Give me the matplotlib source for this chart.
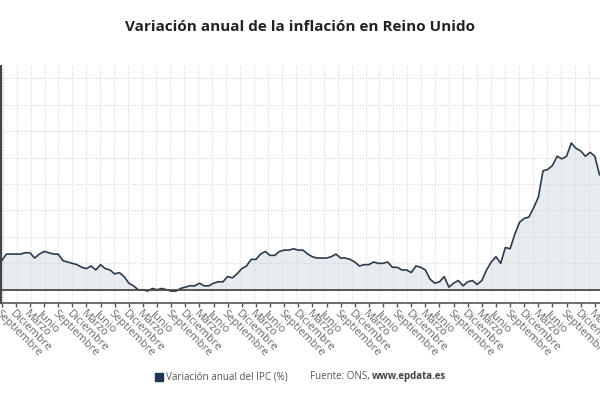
import matplotlib
matplotlib.use("Agg")
import matplotlib.pyplot as plt
from matplotlib.ticker import FixedLocator, MultipleLocator, NullFormatter
from matplotlib.lines import Line2D
from matplotlib.transforms import ScaledTranslation, blended_transform_factory
import numpy as np

# Monthly CPI annual rate, UK, Sep 2012 .. Apr 2023
ipc = [
    2.2, 2.7, 2.7, 2.7,
    2.7, 2.8, 2.8, 2.4, 2.7, 2.9, 2.8, 2.7, 2.7, 2.2, 2.1, 2.0,
    1.9, 1.7, 1.6, 1.8, 1.5, 1.9, 1.6, 1.5, 1.2, 1.3, 1.0, 0.5,
    0.3, 0.0, 0.0, -0.1, 0.1, 0.0, 0.1, 0.0, -0.1, -0.1, 0.1, 0.2,
    0.3, 0.3, 0.5, 0.3, 0.3, 0.5, 0.6, 0.6, 1.0, 0.9, 1.2, 1.6,
    1.8, 2.3, 2.3, 2.7, 2.9, 2.6, 2.6, 2.9, 3.0, 3.0, 3.1, 3.0,
    3.0, 2.7, 2.5, 2.4, 2.4, 2.4, 2.5, 2.7, 2.4, 2.4, 2.3, 2.1,
    1.8, 1.9, 1.9, 2.1, 2.0, 2.0, 2.1, 1.7, 1.7, 1.5, 1.5, 1.3,
    1.8, 1.7, 1.5, 0.8, 0.5, 0.6, 1.0, 0.2, 0.5, 0.7, 0.3, 0.6,
    0.7, 0.4, 0.7, 1.5, 2.1, 2.5, 2.0, 3.2, 3.1, 4.2, 5.1, 5.4,
    5.5, 6.2, 7.0, 9.0, 9.1, 9.4, 10.1, 9.9, 10.1, 11.1, 10.7, 10.5,
    10.1, 10.4, 10.1, 8.7,
]
quarter_names = ["Septiembre", "Diciembre", "Marzo", "Junio"]
title = "Variación anual de la inflación en Reino Unido"
serie_name = "Variación anual del IPC (%)"
source_txt = "Fuente: ONS, "
source_web = "www.epdata.es"

x = np.arange(len(ipc))
y = np.array(ipc)

plt.rcParams['font.family'] = ['Open Sans', 'DejaVu Sans']

fig = plt.figure(figsize=(6, 4), dpi=100)
ax = fig.add_axes([1/600, 97/400, 599/600, 238/400])

line_col = "#2c3b4c"
ax.fill_between(x, y, 0, color="#e6eaef", alpha=0.9, lw=0, zorder=1)
ax.plot(x, y, color=line_col, lw=1.2, zorder=3)
ax.axhline(0, color="#4a4a4a", lw=1.3, zorder=4)

ax.set_xlim(-0.15, 127.1)
ax.set_ylim(-1, 17)

# ticks
tick_pos = np.arange(0, len(ipc), 3)
tick_labels = [quarter_names[k % 4] for k in range(len(tick_pos))]
ax.xaxis.set_major_locator(FixedLocator(tick_pos))
ax.xaxis.set_major_formatter(NullFormatter())
ax.tick_params(axis='x', which='major', direction='out', length=3, width=1,
               color="#555555")
lab_trans = blended_transform_factory(ax.transData, ax.transAxes) + \
    ScaledTranslation(-4/100, -9/100, fig.dpi_scale_trans)
for pos, lab in zip(tick_pos, tick_labels):
    ax.text(pos, 0, lab, transform=lab_trans, rotation=-45, ha='left', va='center',
            rotation_mode='anchor', fontsize=8, color="#6a6a6a", clip_on=False)

ax.xaxis.set_minor_locator(MultipleLocator(2.965, offset=0.2))
ax.tick_params(axis='x', which='minor', length=0)
ax.set_yticks(np.arange(0, 17, 2))
ax.tick_params(axis='y', length=0, labelleft=False)

ax.grid(True, axis='y', which='major', color="#d6d6d6", lw=0.8, ls=(0, (1, 1.5)), zorder=0)
ax.grid(True, axis='x', which='minor', color="#d6d6d6", lw=0.8, ls=(0, (1, 1.5)), zorder=0)
ax.grid(False, axis='x', which='major')

for s in ['top', 'right']:
    ax.spines[s].set_visible(False)
ax.spines['bottom'].set_color("#555555")
ax.spines['bottom'].set_linewidth(1.2)
ax.spines['left'].set_color("#444444")
ax.spines['left'].set_linewidth(1.6)
ax.spines['left'].set_linestyle((0, (1, 0.6)))

fig.text(0.5, 1 - 27/400, title, ha='center', va='center', fontsize=11,
         fontweight='bold', color="#222222")

# legend / source
ly = 1 - 377/400
fig.add_artist(Line2D([158.5/600], [ly], marker='s', markersize=5.5, color="#1e3550",
                      transform=fig.transFigure, lw=0))
fig.text(166/600, ly, serie_name, ha='left', va='center', fontsize=7.1, color="#555555")
t1 = fig.text(310/600, ly, source_txt, ha='left', va='center', fontsize=7.0, color="#555555")
fig.canvas.draw()
bb = t1.get_window_extent(renderer=fig.canvas.get_renderer())
fig.text(bb.x1 / fig.bbox.width, ly, source_web, ha='left', va='center', fontsize=7.0,
         fontweight='bold', color="#444444")

fig.savefig("out.png", dpi=100)
